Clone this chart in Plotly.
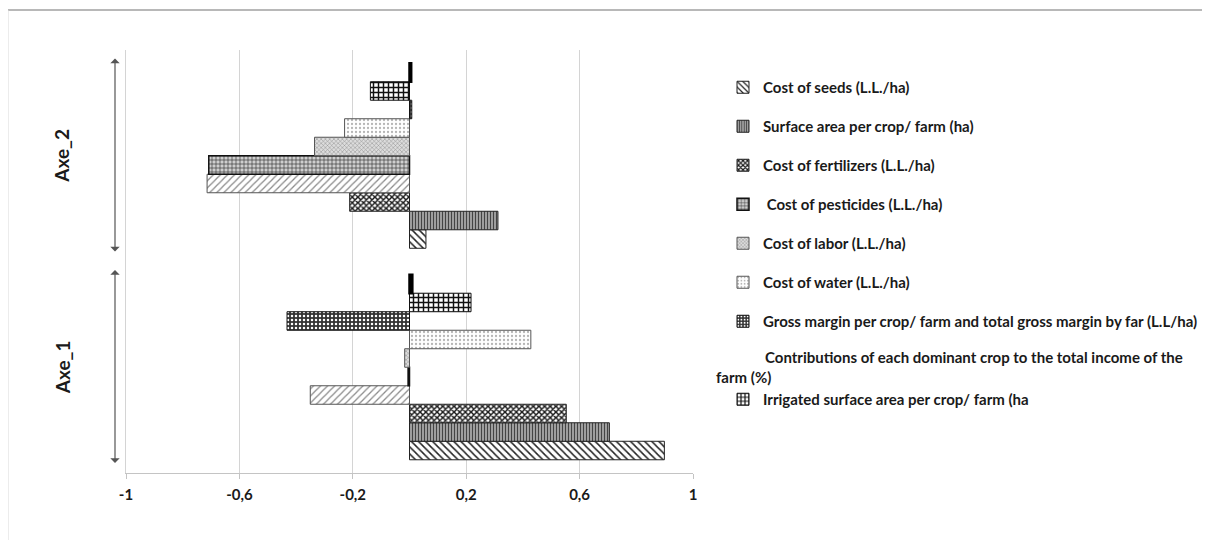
import plotly.graph_objects as go

# ---------------- data ----------------
categories = ["Axe_1", "Axe_2"]

seeds = [0.899, 0.058]
surface_area = [0.705, 0.312]
fertilizers = [0.553, -0.211]
unlabelled = [-0.350, -0.714]
pesticides = [-0.005, -0.708]
labor = [-0.017, -0.335]
water = [0.428, -0.229]
gross_margin = [-0.432, 0.008]
irrigated = [0.217, -0.138]
contributions = [0.010, 0.006]

tick_vals = [-1, -0.6, -0.2, 0.2, 0.6, 1]
tick_text = ["-1", "-0,6", "-0,2", "0,2", "0,6", "1"]

names = {
    "seeds": "Cost of seeds (L.L./ha)",
    "surface": "Surface area per crop/ farm (ha)",
    "fert": "Cost of fertilizers (L.L./ha)",
    "unl": "Unlabelled series",
    "pest": " Cost of pesticides (L.L./ha)",
    "labor": "Cost of labor (L.L./ha)",
    "water": "Cost of water (L.L./ha)",
    "gm": "Gross margin per crop/ farm and total gross margin by far (L.L/ha)",
    "irr": "Irrigated surface area per crop/ farm (ha",
    "contrib": "Contributions of each dominant crop to the total income of the farm (%)",
}
contrib_line1 = "Contributions of each dominant crop to the total income of the"
contrib_line2 = "farm (%)"

FONT = "Lato"
TXT = "#1a1a1a"

fig = go.Figure()


def add_bar(key, vals, shape, fg, bg, size, solidity, line_col="#222", line_w=1, show=True, rank=None):
    fig.add_trace(go.Bar(
        y=categories, x=vals, orientation="h", name=names[key],
        legendgroup=key, showlegend=show,
        legendrank=rank if rank is not None else 1000,
        marker=dict(
            color=bg,
            pattern=dict(shape=shape, fgcolor=fg, bgcolor=bg, size=size,
                         solidity=solidity, fillmode="replace"),
            line=dict(color=line_col, width=line_w),
        ),
    ))


add_bar("seeds", seeds, "\\", "#222", "white", 5, 0.3, rank=1)
add_bar("surface", surface_area, "|", "#444", "#a8a8a8", 3, 0.4, rank=2)
add_bar("fert", fertilizers, "x", "#1a1a1a", "white", 4, 0.6, rank=3)
add_bar("unl", unlabelled, "/", "#8a8a8a", "white", 5, 0.25, line_col="#555", show=False)
add_bar("pest", pesticides, "+", "#333", "#cfcfcf", 4, 0.3, line_col="#111", line_w=1.5, rank=4)
add_bar("labor", labor, "x", "#8c8c8c", "#dcdcdc", 3, 0.3, line_col="#555", rank=5)
add_bar("water", water, ".", "#b5b5b5", "white", 4, 0.25, line_col="#555", rank=6)
add_bar("gm", gross_margin, ".", "white", "#333333", 4, 0.3, line_col="#111", rank=7)
# legend spacer for the Contributions entry (its text is written beside the legend)
fig.add_trace(go.Scatter(x=[None], y=[None], mode="none", name="\u00a0",
                         legendgroup="spacer", showlegend=True, legendrank=8,
                         hoverinfo="skip"))
add_bar("irr", irrigated, "+", "#111", "white", 5, 0.5, line_col="#111", rank=9)
add_bar("contrib", contributions, "", "black", "black", 4, 0.3, line_col="black", line_w=2.5, show=False)

# page body has an 8px margin: work in screen pixels and convert
OFF = 8
W, H = 1202, 532
L, R, T, B = 118, 517, 42, 67
pw, ph = W - L - R, H - T - B


def px_x(sx):
    return (sx - OFF - L) / pw


def px_y(sy):
    return 1 - (sy - OFF - T) / ph


annotations = []
for i, cat in enumerate(categories):
    annotations.append(dict(
        text=cat, xref="paper", yref="y", x=px_x(62), y=i,
        textangle=-90, showarrow=False, xanchor="center", yanchor="middle",
        font=dict(family=FONT, size=19, color=TXT, weight="bold"),
    ))
    annotations.append(dict(
        text="", xref="paper", yref="y", x=px_x(115), y=i + 0.46,
        axref="pixel", ayref="y", ax=0, ay=i - 0.46,
        showarrow=True, arrowside="end+start", arrowhead=1, arrowsize=1.3,
        arrowwidth=1.2, arrowcolor="#555",
    ))

annotations.append(dict(
    text=contrib_line1, xref="paper", yref="paper", x=px_x(763), y=px_y(357),
    xanchor="left", yanchor="middle", showarrow=False,
    font=dict(family=FONT, size=15, color=TXT, weight="bold"),
))
annotations.append(dict(
    text=contrib_line2, xref="paper", yref="paper", x=px_x(714), y=px_y(377),
    xanchor="left", yanchor="middle", showarrow=False,
    font=dict(family=FONT, size=15, color=TXT, weight="bold"),
))

shapes = [
    dict(type="line", xref="paper", yref="paper", x0=px_x(8), x1=px_x(1220), y0=px_y(10), y1=px_y(10),
         line=dict(color="#a0a0a0", width=1.5)),
    dict(type="line", xref="paper", yref="paper", x0=px_x(8), x1=px_x(8), y0=px_y(10), y1=px_y(545),
         line=dict(color="#dadada", width=1)),
]

fig.update_layout(
    width=W, height=H,
    margin=dict(l=L, r=R, t=T, b=B, autoexpand=False),
    paper_bgcolor="white", plot_bgcolor="white",
    barmode="group", bargap=0.125, bargroupgap=0,
    font=dict(family=FONT, size=13, color=TXT),
    xaxis=dict(
        range=[-1, 1], tickvals=tick_vals, ticktext=tick_text,
        showgrid=True, gridcolor="#d4d4d4", gridwidth=1,
        zeroline=False, showline=True, linecolor="#c4c4c4", linewidth=1,
        ticks="outside", ticklen=5, tickcolor="#c4c4c4", ticklabelstandoff=3,
        tickfont=dict(family=FONT, size=15, color=TXT, weight="bold"),
    ),
    yaxis=dict(
        type="category", categoryorder="array", categoryarray=categories,
        showticklabels=False, showgrid=False, zeroline=False,
        showline=True, linecolor="#d4d4d4", linewidth=1, ticks="",
        range=[-0.5, 1.5],
    ),
    legend=dict(
        x=px_x(723), y=px_y(71), xanchor="left", yanchor="top",
        traceorder="grouped", tracegroupgap=16.5,
        font=dict(family=FONT, size=15, color=TXT, weight="bold"),
        bgcolor="rgba(0,0,0,0)",
    ),
    annotations=annotations,
    shapes=shapes,
    showlegend=True,
)

fig.write_html("out.html")
